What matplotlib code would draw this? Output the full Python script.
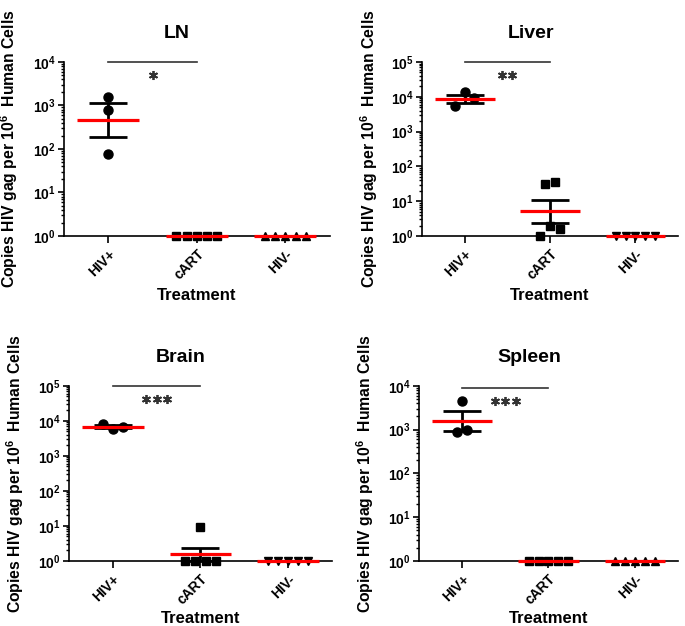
import numpy as np
import matplotlib
matplotlib.use('Agg')
import matplotlib.pyplot as plt
from matplotlib.ticker import LogLocator, FuncFormatter, NullFormatter

plt.rcParams['font.family'] = 'Liberation Sans'
plt.rcParams['font.weight'] = 'bold'
plt.rcParams['mathtext.fontset'] = 'custom'
plt.rcParams['mathtext.rm'] = 'Liberation Sans:bold'
plt.rcParams['mathtext.bf'] = 'Liberation Sans:bold'

# Treatment groups
groups = ['HIV+', 'cART', 'HIV-']

# Copies per 10^6 human cells
ln_hiv_pos = [1550, 780, 78]
ln_cart = [1, 1, 1, 1, 1]
ln_hiv_neg = [1, 1, 1, 1, 1]

liver_hiv_pos = [5400, 14000, 9000]
liver_cart = [31, 35, 1.0, 2.0, 1.55]
liver_hiv_neg = [1, 1, 1, 1, 1]

brain_hiv_pos = [7900, 5800, 6700]
brain_cart = [1, 1, 9, 1, 1]
brain_hiv_neg = [1, 1, 1, 1, 1]

spleen_hiv_pos = [4550, 870, 960]
spleen_cart = [1, 1, 1, 1, 1]
spleen_hiv_neg = [1, 1, 1, 1, 1]

# Significance HIV+ vs cART
stars = {'LN': '*', 'Liver': '**', 'Brain': '***', 'Spleen': '***'}

panels = [
    ('LN', [ln_hiv_pos, ln_cart, ln_hiv_neg], 1e4, '^', [0.0934, 0.623, 0.388, 0.278]),
    ('Liver', [liver_hiv_pos, liver_cart, liver_hiv_neg], 1e5, 'v', [0.616, 0.623, 0.374, 0.278]),
    ('Brain', [brain_hiv_pos, brain_cart, brain_hiv_neg], 1e5, 'v', [0.1007, 0.104, 0.384, 0.2796]),
    ('Spleen', [spleen_hiv_pos, spleen_cart, spleen_hiv_neg], 1e4, '^', [0.6117, 0.104, 0.378, 0.2796]),
]


def spread(ax, vals, step=0.115, gap=8):
    # points that would overlap on screen are spread sideways (like a scatter dot plot)
    pix = ax.transData.transform(np.column_stack([np.zeros(len(vals)), vals]))[:, 1]
    order = np.argsort(pix, kind='stable')
    clusters = []
    for i in order:
        if clusters and pix[i] - pix[clusters[-1][-1]] < gap:
            clusters[-1].append(i)
        else:
            clusters.append([i])
    offs = np.zeros(len(vals))
    for c in clusters:
        c = sorted(c)
        for k, i in enumerate(c):
            offs[i] = (k - (len(c) - 1) / 2) * step
    return offs


fig = plt.figure(figsize=(6.85, 6.26), dpi=100)

for name, data, top, tri, rect in panels:
    ax = fig.add_axes(rect)
    ax.set_yscale('log')
    ax.set_ylim(1, top)
    ax.set_xlim(-0.5, 2.5)

    markers = ['o', 's', tri]
    for i, vals in enumerate(data):
        vals = np.array(vals, dtype=float)
        offs = spread(ax, vals)
        ax.plot(i + offs, vals, linestyle='none', marker=markers[i], markersize=6.5 if i == 0 else 5.5,
                color='black', clip_on=False, zorder=3)

        # geometric mean with SEM of the log values
        logs = np.log10(vals)
        m = logs.mean()
        sem = logs.std(ddof=1) / np.sqrt(len(logs))
        gm = 10 ** m
        ax.errorbar(i, gm, yerr=[[gm - 10 ** (m - sem)], [10 ** (m + sem) - gm]], fmt='none',
                    ecolor='black', elinewidth=2, capsize=13.5, capthick=2, zorder=4, clip_on=False)
        ax.hlines(gm, i - 0.35, i + 0.35, color='#ff0000', linewidth=2.3, zorder=5, clip_on=False)

    # significance bar and stars
    bar_y = top if name != 'Spleen' else top * 0.9
    ax.plot([0, 1], [bar_y, bar_y], color='#333333', linewidth=1.2, clip_on=False)
    n = len(stars[name])
    sx = 0.5 + (np.arange(n) - (n - 1) / 2) * 0.12
    star_y = 10 ** (np.log10(bar_y) - 13 / ax.bbox.height * np.log10(top))
    ax.plot(sx, [star_y] * n, linestyle='none', marker=(6, 2, 0), markersize=6.5,
            markeredgewidth=1.3, color='#333333', clip_on=False)

    # axes styling
    for s in ['top', 'right']:
        ax.spines[s].set_visible(False)
    for s in ['left', 'bottom']:
        ax.spines[s].set_linewidth(1.2)
    ax.yaxis.set_major_locator(LogLocator(base=10, numticks=10))
    ax.yaxis.set_minor_locator(LogLocator(base=10, subs=np.arange(2, 10), numticks=20))
    ax.yaxis.set_major_formatter(FuncFormatter(lambda v, p: r'$\mathbf{10^{%d}}$' % round(np.log10(v))))
    ax.yaxis.set_minor_formatter(NullFormatter())
    ax.tick_params(axis='y', which='major', length=4, width=1.2, labelsize=10, pad=2)
    ax.tick_params(axis='y', which='minor', length=2, width=1.0)
    ax.set_xticks(range(len(groups)))
    ax.set_xticklabels(groups, rotation=45, ha='right', rotation_mode='anchor', fontsize=10)
    ax.tick_params(axis='x', length=5, width=1.2, pad=3)

    ax.set_title(name, x=0.425, pad=17, fontsize=14, fontweight='bold')
    ax.set_xlabel('Treatment', fontsize=12, fontweight='bold')
    ax.xaxis.set_label_coords(0.5, -0.30 if rect[1] > 0.5 else -0.285)
    ax.xaxis.label.set_va('top')
    ax.set_ylabel(r'Copies HIV gag per 10$^{\mathbf{6}}$  Human Cells', fontsize=11.3, fontweight='bold')
    ax.yaxis.set_label_coords(-0.165, 0.5)

plt.savefig('out.png', dpi=100)
print("Graph saved as 'out.png'")
